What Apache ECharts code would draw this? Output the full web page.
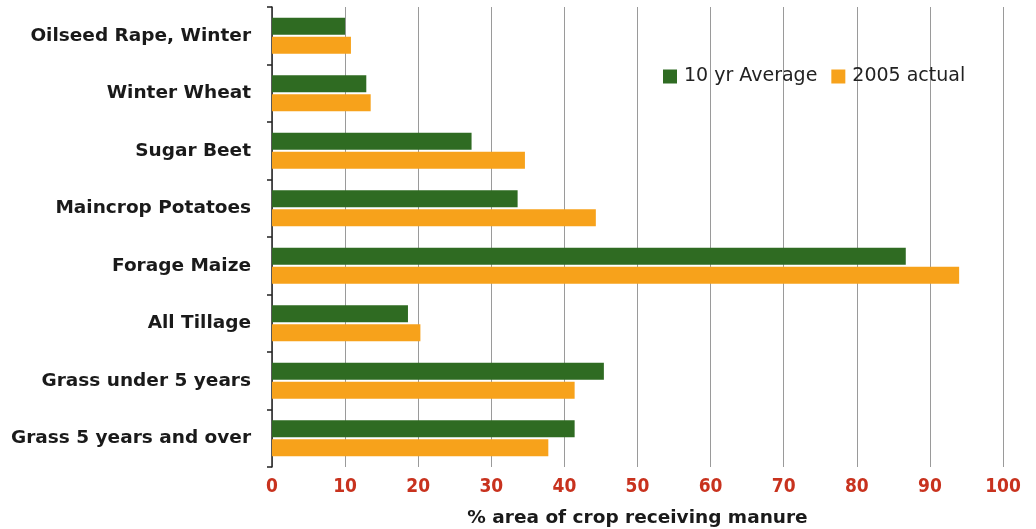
<!DOCTYPE html>
<html>
<head>
<meta charset="utf-8">
<script src="https://cdn.jsdelivr.net/npm/echarts@6/dist/echarts.min.js"></script>
<style>
  html, body { margin: 0; padding: 0; background: #fff; }
  #chart { width: 1036px; height: 529px; }
</style>
</head>
<body>
<div id="chart"></div>
<script>
const crops = ['Oilseed Rape, Winter', 'Winter Wheat', 'Sugar Beet', 'Maincrop Potatoes',
  'Forage Maize', 'All Tillage', 'Grass under 5 years', 'Grass 5 years and over'];
const tenYearAvg = [10.0, 12.9, 27.3, 33.6, 86.7, 18.6, 45.4, 41.4];
const actual2005 = [10.8, 13.5, 34.6, 44.3, 94.0, 20.3, 41.4, 37.8];
const xTicks = [0, 10, 20, 30, 40, 50, 60, 70, 80, 90, 100];

const chart = echarts.init(document.getElementById('chart'));

chart.setOption({
  animation: false,
  backgroundColor: '#fff',
  legend: {
    data: ['10 yr Average', '2005 actual'],
    left: 658,
    top: 62,
    itemWidth: 14,
    itemHeight: 14,
    itemGap: 14,
    icon: 'rect',
    textStyle: { fontFamily: 'DejaVu Sans', fontSize: 19, color: '#222', padding: [0, 0, 0, 2] }
  },
  grid: { left: 272, right: 33, top: 7, bottom: 62, outerBoundsMode: 'none' },
  xAxis: {
    type: 'value',
    min: xTicks[0],
    max: xTicks[xTicks.length - 1],
    interval: 10,
    name: '% area of crop receiving manure',
    nameLocation: 'middle',
    nameGap: 42,
    nameTextStyle: { fontFamily: 'DejaVu Sans', fontWeight: 'bold', fontSize: 18.5, color: '#1a1a1a' },
    axisLine: { show: false },
    axisTick: { show: false },
    axisLabel: {
      margin: 11,
      fontFamily: 'DejaVu Sans Condensed',
      fontWeight: 'bold',
      fontSize: 19,
      color: '#c8321e'
    },
    splitLine: { show: true, lineStyle: { color: '#9a9a9a', width: 1 } }
  },
  yAxis: {
    type: 'category',
    data: crops,
    inverse: true,
    axisLine: { show: true, lineStyle: { color: '#222', width: 1.5 } },
    axisTick: { show: true, length: 5, lineStyle: { color: '#222', width: 1.5 } },
    axisLabel: {
      margin: 21,
      fontFamily: 'DejaVu Sans',
      fontWeight: 'bold',
      fontSize: 18.5,
      color: '#1a1a1a'
    }
  },
  series: [
    {
      name: '10 yr Average',
      type: 'bar',
      data: tenYearAvg,
      barWidth: 17,
      barGap: '12%',
      itemStyle: { color: '#2f6b22' }
    },
    {
      name: '2005 actual',
      type: 'bar',
      data: actual2005,
      barWidth: 17,
      barGap: '12%',
      itemStyle: { color: '#f7a21b' }
    }
  ]
});
</script>
</body>
</html>
